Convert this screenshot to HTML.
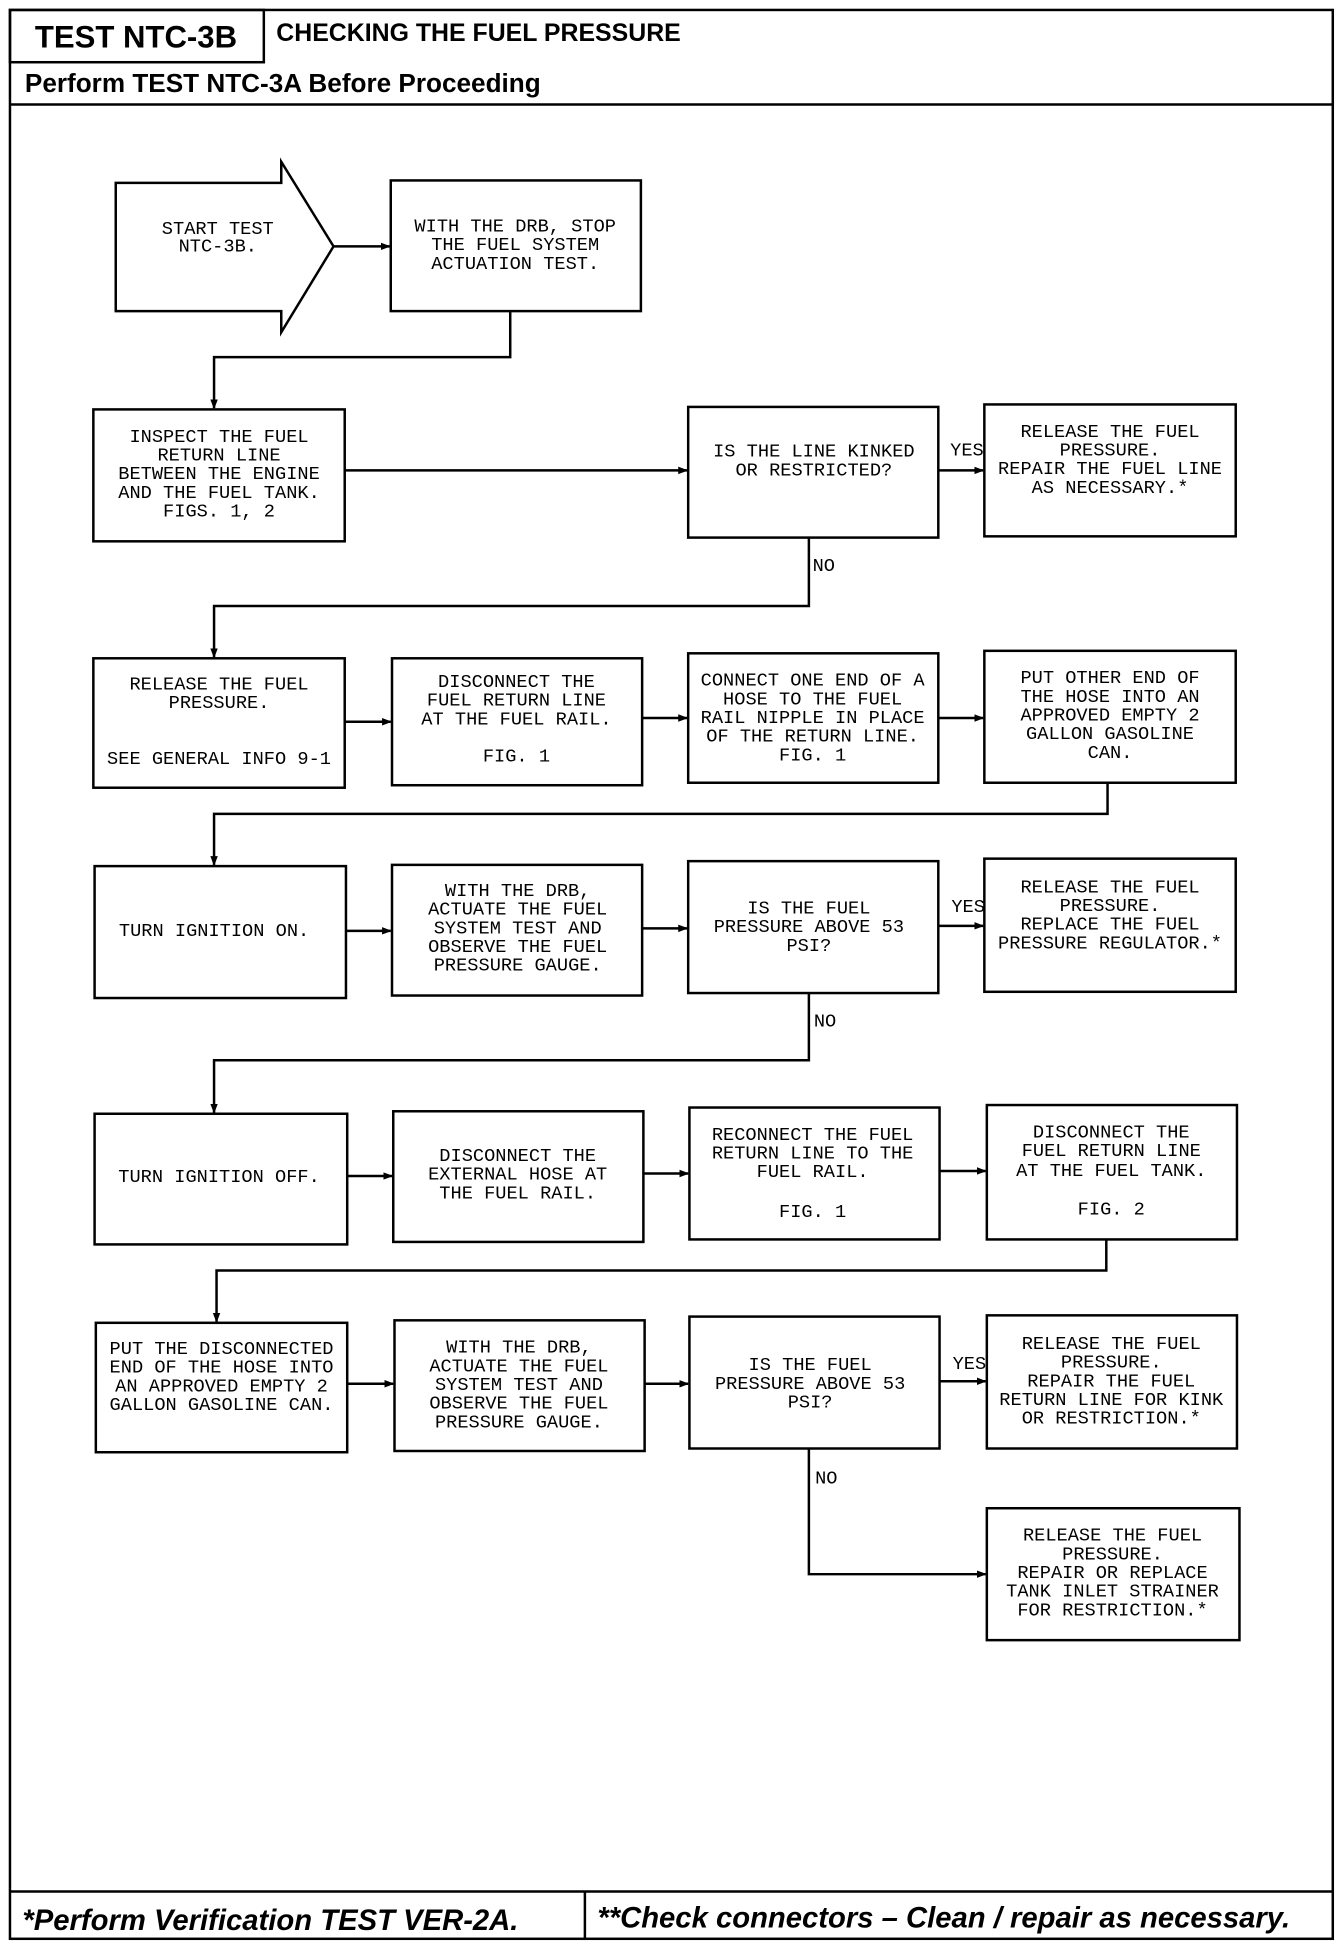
<!DOCTYPE html>
<html><head><meta charset="utf-8"><style>
html,body{margin:0;padding:0;background:#fff;}
svg{display:block;}
.t{font-family:"Liberation Mono",monospace;font-size:15px;text-anchor:middle;dominant-baseline:central;fill:#000;}
.h{font-family:"Liberation Sans",sans-serif;font-weight:bold;fill:#000;}
</style></head><body>
<svg width="1344" height="1950" viewBox="0 0 1080 1567" xmlns="http://www.w3.org/2000/svg">
<defs><marker id="a" markerWidth="8" markerHeight="8" refX="7" refY="4" orient="auto" markerUnits="userSpaceOnUse"><path d="M0,1 L8,4 L0,7 Z" fill="#000"/></marker></defs>
<g fill="none" stroke="#000" stroke-width="2">
<rect x="8" y="8" width="1063" height="1550"/>
<rect x="8" y="8" width="204" height="42"/>
<line x1="8" y1="84" x2="1071" y2="84"/>
<line x1="8" y1="1520" x2="1071" y2="1520"/>
<line x1="470" y1="1520" x2="470" y2="1558"/>
<polygon points="93,147 226,147 226,130 268,198 226,267 226,250 93,250"/>
<rect x="314" y="145" width="201" height="105"/>
<rect x="75" y="329" width="202" height="106"/>
<rect x="553" y="327" width="201" height="105"/>
<rect x="791" y="325" width="202" height="106"/>
<rect x="75" y="529" width="202" height="104"/>
<rect x="315" y="529" width="201" height="102"/>
<rect x="553" y="525" width="201" height="104"/>
<rect x="791" y="523" width="202" height="106"/>
<rect x="76" y="696" width="202" height="106"/>
<rect x="315" y="695" width="201" height="105"/>
<rect x="553" y="692" width="201" height="106"/>
<rect x="791" y="690" width="202" height="107"/>
<rect x="76" y="895" width="203" height="105"/>
<rect x="316" y="893" width="201" height="105"/>
<rect x="554" y="890" width="201" height="106"/>
<rect x="793" y="888" width="201" height="108"/>
<rect x="77" y="1063" width="202" height="104"/>
<rect x="317" y="1061" width="201" height="105"/>
<rect x="554" y="1058" width="201" height="106"/>
<rect x="793" y="1057" width="201" height="107"/>
<rect x="793" y="1212" width="203" height="106"/>
</g>
<g fill="none" stroke="#000" stroke-width="2" marker-end="url(#a)">
<line x1="268" y1="198" x2="313" y2="198"/>
<polyline points="410,250 410,287 172,287 172,328"/>
<line x1="277" y1="378" x2="552" y2="378"/>
<line x1="754" y1="378" x2="790" y2="378"/>
<polyline points="650,432 650,487 172,487 172,528"/>
<line x1="277" y1="580" x2="314" y2="580"/>
<line x1="516" y1="577" x2="552" y2="577"/>
<line x1="754" y1="577" x2="790" y2="577"/>
<polyline points="890,629 890,654 172,654 172,695"/>
<line x1="278" y1="748" x2="314" y2="748"/>
<line x1="516" y1="746" x2="552" y2="746"/>
<line x1="754" y1="744" x2="790" y2="744"/>
<polyline points="650,798 650,852 172,852 172,894"/>
<line x1="279" y1="945" x2="315" y2="945"/>
<line x1="517" y1="943" x2="553" y2="943"/>
<line x1="755" y1="941" x2="792" y2="941"/>
<polyline points="889,996 889,1021 174,1021 174,1062"/>
<line x1="279" y1="1112" x2="316" y2="1112"/>
<line x1="518" y1="1112" x2="553" y2="1112"/>
<line x1="755" y1="1110" x2="792" y2="1110"/>
<polyline points="650,1164 650,1265 792,1265"/>
</g>
<text class="h" x="28" y="38" font-size="25">TEST NTC-3B</text>
<text class="h" x="222" y="33" font-size="20">CHECKING THE FUEL PRESSURE</text>
<text class="h" x="20" y="74" font-size="21">Perform TEST NTC-3A Before Proceeding</text>
<text class="h" x="18" y="1551" font-size="23.5" font-style="italic">*Perform Verification TEST VER-2A.</text>
<text class="h" x="480" y="1549" font-size="23.5" font-style="italic">**Check connectors – Clean / repair as necessary.</text>
<g class="t">
<text x="175" y="184">START TEST</text><text x="175" y="198">NTC-3B.</text>
<text x="414" y="182">WITH THE DRB, STOP</text><text x="414" y="197">THE FUEL SYSTEM</text><text x="414" y="212">ACTUATION TEST.</text>
<text x="176" y="351">INSPECT THE FUEL</text><text x="176" y="366">RETURN LINE</text><text x="176" y="381">BETWEEN THE ENGINE</text><text x="176" y="396">AND THE FUEL TANK.</text><text x="176" y="411">FIGS. 1, 2</text>
<text x="654" y="363">IS THE LINE KINKED</text><text x="654" y="378">OR RESTRICTED?</text>
<text x="892" y="347">RELEASE THE FUEL</text><text x="892" y="362">PRESSURE.</text><text x="892" y="377">REPAIR THE FUEL LINE</text><text x="892" y="392">AS NECESSARY.*</text>
<text x="777" y="362">YES</text><text x="662" y="455">NO</text>
<text x="176" y="550">RELEASE THE FUEL</text><text x="176" y="565">PRESSURE.</text><text x="176" y="610">SEE GENERAL INFO 9-1</text>
<text x="415" y="548">DISCONNECT THE</text><text x="415" y="563">FUEL RETURN LINE</text><text x="415" y="578">AT THE FUEL RAIL.</text><text x="415" y="608">FIG. 1</text>
<text x="653" y="547">CONNECT ONE END OF A</text><text x="653" y="562">HOSE TO THE FUEL</text><text x="653" y="577">RAIL NIPPLE IN PLACE</text><text x="653" y="592">OF THE RETURN LINE.</text><text x="653" y="607">FIG. 1</text>
<text x="892" y="545">PUT OTHER END OF</text><text x="892" y="560">THE HOSE INTO AN</text><text x="892" y="575">APPROVED EMPTY 2</text><text x="892" y="590">GALLON GASOLINE</text><text x="892" y="605">CAN.</text>
<text x="172" y="748">TURN IGNITION ON.</text>
<text x="416" y="716">WITH THE DRB,</text><text x="416" y="731">ACTUATE THE FUEL</text><text x="416" y="746">SYSTEM TEST AND</text><text x="416" y="761">OBSERVE THE FUEL</text><text x="416" y="776">PRESSURE GAUGE.</text>
<text x="650" y="730">IS THE FUEL</text><text x="650" y="745">PRESSURE ABOVE 53</text><text x="650" y="760">PSI?</text>
<text x="892" y="713">RELEASE THE FUEL</text><text x="892" y="728">PRESSURE.</text><text x="892" y="743">REPLACE THE FUEL</text><text x="892" y="758">PRESSURE REGULATOR.*</text>
<text x="778" y="729">YES</text><text x="663" y="821">NO</text>
<text x="176" y="946">TURN IGNITION OFF.</text>
<text x="416" y="929">DISCONNECT THE</text><text x="416" y="944">EXTERNAL HOSE AT</text><text x="416" y="959">THE FUEL RAIL.</text>
<text x="653" y="912">RECONNECT THE FUEL</text><text x="653" y="927">RETURN LINE TO THE</text><text x="653" y="942">FUEL RAIL.</text><text x="653" y="974">FIG. 1</text>
<text x="893" y="910">DISCONNECT THE</text><text x="893" y="925">FUEL RETURN LINE</text><text x="893" y="941">AT THE FUEL TANK.</text><text x="893" y="972">FIG. 2</text>
<text x="178" y="1084">PUT THE DISCONNECTED</text><text x="178" y="1099">END OF THE HOSE INTO</text><text x="178" y="1114">AN APPROVED EMPTY 2</text><text x="178" y="1129">GALLON GASOLINE CAN.</text>
<text x="417" y="1083">WITH THE DRB,</text><text x="417" y="1098">ACTUATE THE FUEL</text><text x="417" y="1113">SYSTEM TEST AND</text><text x="417" y="1128">OBSERVE THE FUEL</text><text x="417" y="1143">PRESSURE GAUGE.</text>
<text x="651" y="1097">IS THE FUEL</text><text x="651" y="1112">PRESSURE ABOVE 53</text><text x="651" y="1127">PSI?</text>
<text x="893" y="1080">RELEASE THE FUEL</text><text x="893" y="1095">PRESSURE.</text><text x="893" y="1110">REPAIR THE FUEL</text><text x="893" y="1125">RETURN LINE FOR KINK</text><text x="893" y="1140">OR RESTRICTION.*</text>
<text x="779" y="1096">YES</text><text x="664" y="1188">NO</text>
<text x="894" y="1234">RELEASE THE FUEL</text><text x="894" y="1249">PRESSURE.</text><text x="894" y="1264">REPAIR OR REPLACE</text><text x="894" y="1279">TANK INLET STRAINER</text><text x="894" y="1294">FOR RESTRICTION.*</text>
</g>
</svg>
</body></html>
